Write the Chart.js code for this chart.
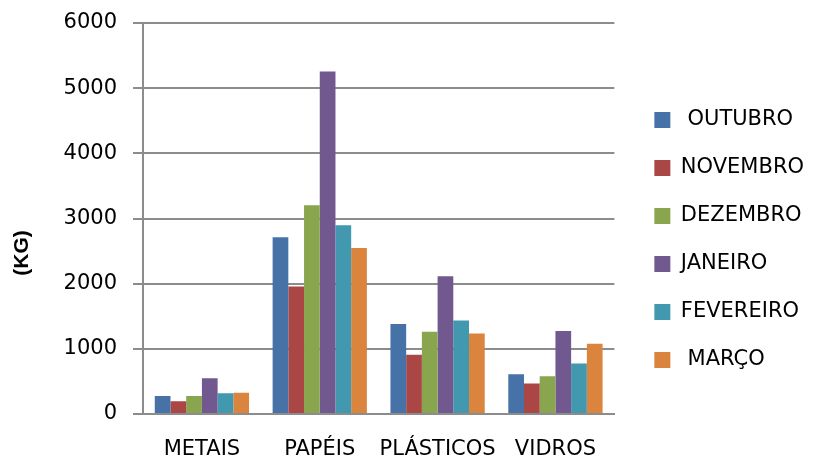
<!DOCTYPE html>
<html>
<head>
<meta charset="utf-8">
<script src="https://cdn.jsdelivr.net/npm/chart.js@4/dist/chart.umd.min.js"></script>
<style>
  html, body { margin: 0; padding: 0; background: #fff; }
  #wrap { width: 814px; height: 457px; }
</style>
</head>
<body>
<div id="wrap"><canvas id="chart"></canvas></div>
<script>
const categories = ["METAIS", "PAPÉIS", "PLÁSTICOS", "VIDROS"];
const months = [" OUTUBRO", "NOVEMBRO", "DEZEMBRO", "JANEIRO", "FEVEREIRO", " MARÇO"];
const outubro = [277, 2712, 1380, 611];
const novembro = [195, 1958, 908, 467];
const dezembro = [277, 3205, 1262, 580];
const janeiro = [549, 5257, 2113, 1272];
const fevereiro = [318, 2897, 1436, 774];
const marco = [328, 2549, 1236, 1077];
const colors = ["#4672a8", "#aa4644", "#89a54e", "#71588f", "#4198af", "#db843d"];
const yTitle = "(KG)";

const series = [outubro, novembro, dezembro, janeiro, fevereiro, marco];
const gridColor = "#8c8c8c";
const font = "'DejaVu Sans', sans-serif";

// axis title drawn to the left, a bit below the middle like the original
const kgTitle = {
    id: "kgTitle",
    afterDraw(chart) {
        const ctx = chart.ctx;
        ctx.save();
        ctx.translate(22, 253);
        ctx.rotate(-Math.PI / 2);
        ctx.font = "bold 21px 'Liberation Sans', Arial, sans-serif";
        ctx.fillStyle = "#000";
        ctx.textAlign = "center";
        ctx.textBaseline = "middle";
        ctx.fillText(yTitle, 0, 0);
        ctx.restore();
    }
};

new Chart(document.getElementById("chart"), {
    type: "bar",
    data: {
        labels: categories,
        datasets: series.map((vals, i) => ({
            label: months[i],
            data: vals,
            backgroundColor: colors[i],
            borderWidth: 0,
            categoryPercentage: 0.8,
            barPercentage: 1.0
        }))
    },
    options: {
        responsive: true,
        maintainAspectRatio: false,
        animation: false,
        layout: { padding: { top: 23, left: 0, right: 0, bottom: 0 } },
        plugins: {
            tooltip: { enabled: false },
            legend: {
                position: "right",
                maxWidth: 220,
                labels: {
                    boxWidth: 16,
                    boxHeight: 16,
                    padding: 27,
                    color: "#000",
                    font: { family: font, size: 21 }
                }
            }
        },
        scales: {
            x: {
                grid: { display: false, drawTicks: false },
                border: { display: true, color: gridColor, width: 2 },
                ticks: {
                    color: "#000", padding: 23, maxRotation: 0, minRotation: 0, autoSkip: false,
                    font: { family: font, size: 21 }
                },
                afterFit(scale) { scale.height = 43; }
            },
            y: {
                min: 0,
                max: 6000,
                ticks: {
                    stepSize: 1000, color: "#000", padding: 16,
                    font: { family: font, size: 21 },
                    callback: v => String(v)
                },
                grid: { color: gridColor, lineWidth: 2, tickLength: 10 },
                border: { color: gridColor, width: 2 },
                afterFit(scale) {
                    scale.width = 143;
                    scale.paddingTop = 0;
                    scale.paddingBottom = 0;
                }
            },
            // empty spacer between plot and legend
            y2: {
                position: "right",
                ticks: { display: false },
                grid: { display: false },
                border: { display: false },
                afterFit(scale) { scale.width = 13; }
            }
        }
    },
    plugins: [kgTitle]
});
</script>
</body>
</html>
